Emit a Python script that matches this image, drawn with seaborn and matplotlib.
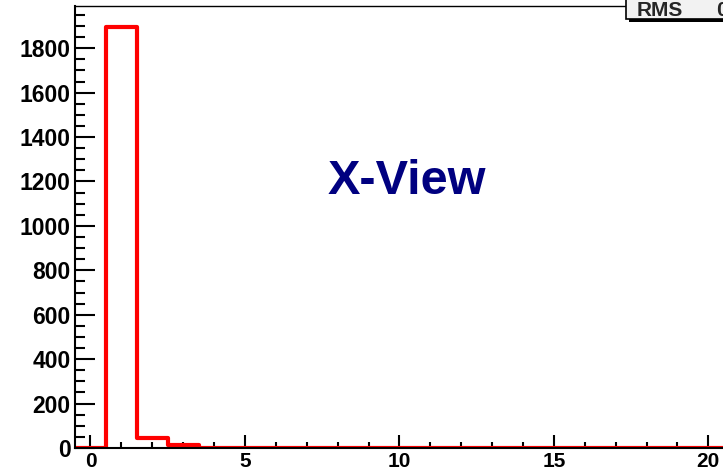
import numpy as np
import pandas as pd
import seaborn as sns
import matplotlib
matplotlib.use("Agg")
import matplotlib.pyplot as plt
from matplotlib.ticker import MultipleLocator
from matplotlib.patches import Rectangle

# Hit multiplicity per event, X view (bins centred on integers 0..20)
multiplicity = list(range(0, 21))
counts = [0, 1895, 45, 15] + [0] * 17
bin_edges = [m - 0.5 for m in multiplicity] + [multiplicity[-1] + 0.5]
title_text = "X-View"
stats_label = "RMS"
stats_value = "0"

sns.set_theme(style="white")
plt.rcParams["font.family"] = ["Liberation Sans", "DejaVu Sans"]
plt.rcParams["font.weight"] = "bold"

W, H, DPI = 723, 470, 100
fig = plt.figure(figsize=(W / DPI, H / DPI), dpi=DPI)
fig.patch.set_facecolor("white")

# Frame geometry in pixels
left_px, right_px, top_px, bottom_px = 75.0, 723.8, 6.0, 448.0
ax = fig.add_axes([left_px / W, 1 - bottom_px / H,
                   (right_px - left_px) / W, (bottom_px - top_px) / H])
ax.set_facecolor("white")

df = pd.DataFrame({"multiplicity": multiplicity, "counts": counts})
sns.histplot(data=df, x="multiplicity", weights="counts", bins=bin_edges,
             element="step", fill=False, color="red", linewidth=3,
             ax=ax, zorder=2)

ax.set_xlim(-0.5, 20.5)
ax.set_ylim(0, 1990)
ax.set_xlabel("")
ax.set_ylabel("")

ax.xaxis.set_major_locator(MultipleLocator(5))
ax.xaxis.set_minor_locator(MultipleLocator(1))
ax.yaxis.set_major_locator(MultipleLocator(200))
ax.yaxis.set_minor_locator(MultipleLocator(50))

ax.tick_params(axis="y", which="major", direction="in", length=14.4, width=1.5,
               color="black", labelsize=16.5, pad=3, left=True)
ax.tick_params(axis="y", which="minor", direction="in", length=7.2, width=1.5,
               color="black", left=True)
ax.tick_params(axis="x", which="major", direction="in", length=9.4, width=1.5,
               color="black", labelsize=15, pad=3.2, bottom=True)
ax.tick_params(axis="x", which="minor", direction="in", length=4.3, width=1.5,
               color="black", bottom=True)
for lab in ax.get_xticklabels() + ax.get_yticklabels():
    lab.set_fontweight("bold")
    lab.set_color("black")

for side in ("left", "bottom"):
    ax.spines[side].set_color("black")
    ax.spines[side].set_linewidth(1.5)
    ax.spines[side].set_zorder(3)
ax.spines["top"].set_color("black")
ax.spines["top"].set_linewidth(1.0)
ax.spines["right"].set_color("#ff6666")
ax.spines["right"].set_linewidth(1.0)
ax.grid(False)

fig.text(407 / W, 1 - 181 / H, title_text, color="#000080", fontsize=35,
         fontweight="bold", ha="center", va="center")

# Statistics box in the top-right corner, partly off the canvas
bx0, bx1, by0, by1 = 626, 740, -6, 19
fig.patches.append(Rectangle(((bx0 + 3) / W, 1 - (by1 + 3) / H),
                             (bx1 - bx0) / W, (by1 - by0) / H,
                             transform=fig.transFigure, facecolor="black",
                             edgecolor="none", zorder=5))
fig.patches.append(Rectangle((bx0 / W, 1 - by1 / H),
                             (bx1 - bx0) / W, (by1 - by0) / H,
                             transform=fig.transFigure, facecolor="#f2f2f2",
                             edgecolor="black", linewidth=1.2, zorder=6))
fig.text(637 / W, 1 - 11 / H, stats_label, fontsize=15, fontweight="bold",
         ha="left", va="center", zorder=7)
fig.text(716 / W, 1 - 11 / H, stats_value, fontsize=15, fontweight="bold",
         ha="left", va="center", zorder=7)

fig.savefig("out.png", dpi=DPI)
